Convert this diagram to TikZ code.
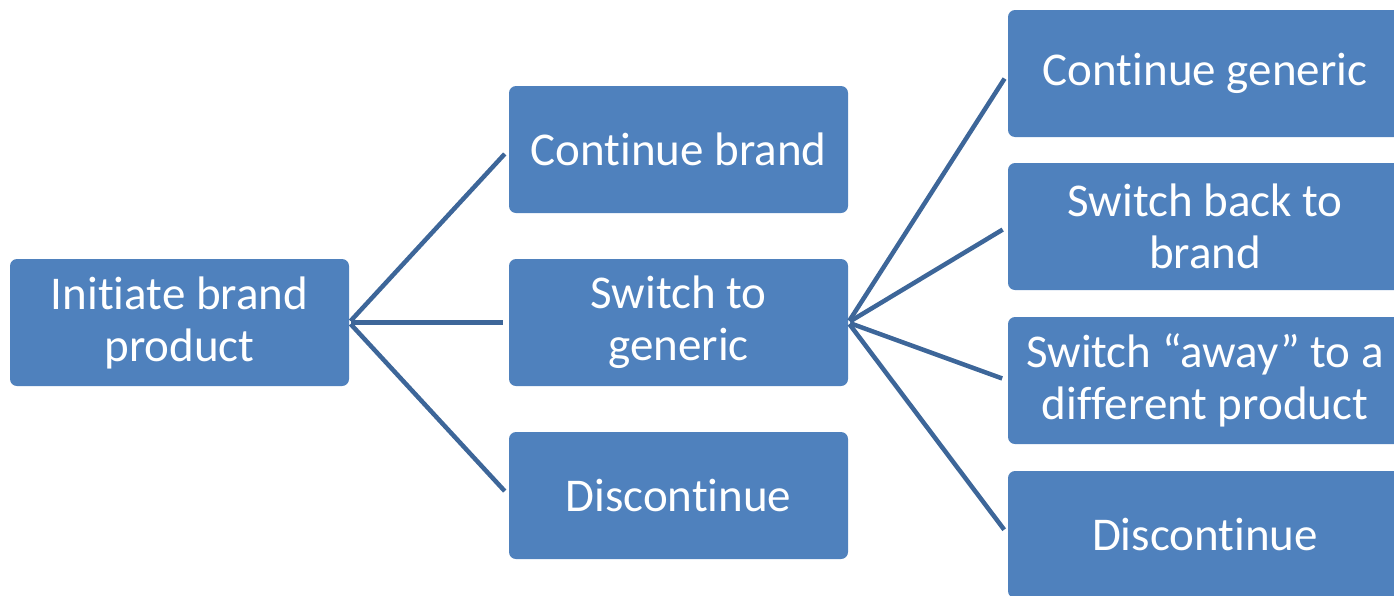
\documentclass[tikz,border=0pt]{standalone}
\usepackage{fontspec}
\setmainfont[Ligatures={NoCommon},RawFeature=-calt]{Carlito}
\newcommand\nolig{\kern0pt{}}
\definecolor{boxblue}{HTML}{4F81BD}
\definecolor{lineblue}{HTML}{3D6699}
\begin{document}
\begin{tikzpicture}[x=1pt,y=-1pt,
  box/.style={draw=none, fill=boxblue, rounded corners=7pt, text=white,
    minimum width=339pt, minimum height=127pt, align=center, inner sep=0pt,
    font=\fontsize{47}{52}\selectfont},
  widebox/.style={box, minimum width=394pt},
  conn/.style={draw=lineblue, line width=4.5pt, shorten <=2pt, shorten >=6pt}]
\useasboundingbox (0,0) rectangle (1394,595);
\clip (0,0) rectangle (1394,595);
\node[box] (init) at (179.5,322.5) {Init\nolig iate brand\\product};
\node[box] (cb) at (678.5,149.5) {Cont\nolig inue brand};
\node[box] (sg) at (678.5,322.5) {Switch to\\generic};
\node[box] (dc) at (678.5,495.5) {Discont\nolig inue};
\node[widebox] (cg) at (1205,73.5) {Cont\nolig inue generic};
\node[widebox] (sb) at (1205,226.5) {Switch back to\\brand};
\node[widebox] (sa) at (1205,380.5) {Switch “away” to a\\dif\nolig ferent product};
\node[widebox] (dc2) at (1205,534.5) {Discont\nolig inue};
\draw[conn] (init.east) -- (cb.west);
\draw[conn] (init.east) -- (sg.west);
\draw[conn] (init.east) -- (dc.west);
\draw[conn] (sg.east) -- (cg.west);
\draw[conn] (sg.east) -- (sb.west);
\draw[conn] (sg.east) -- (sa.west);
\draw[conn] (sg.east) -- (dc2.west);
\end{tikzpicture}
\end{document}
